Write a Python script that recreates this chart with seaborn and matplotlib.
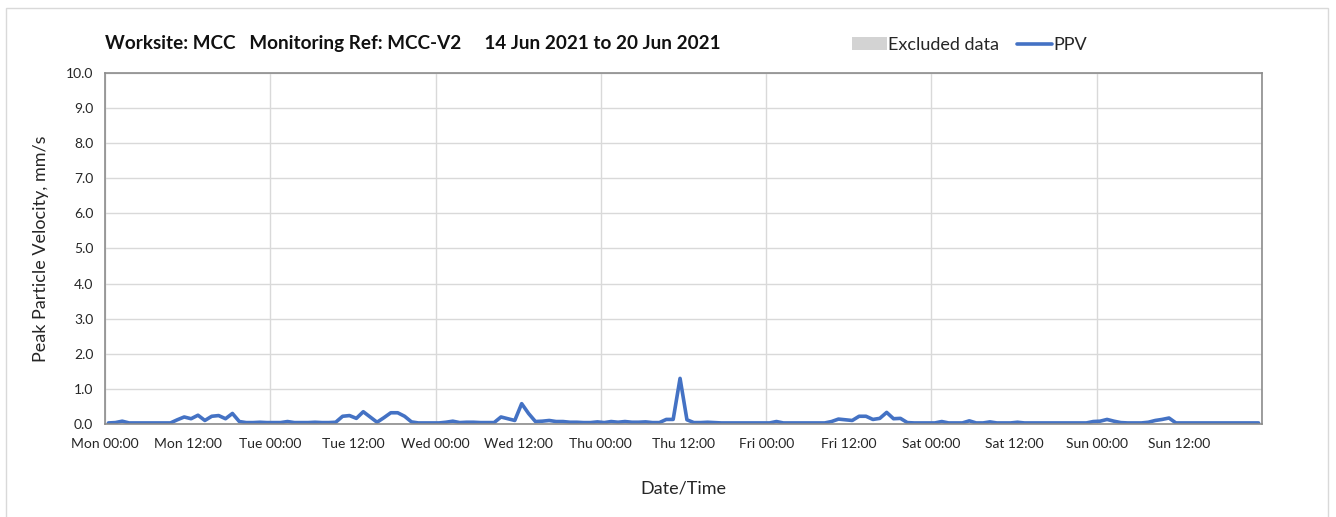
import pandas as pd
import seaborn as sns
import matplotlib
matplotlib.use("Agg")
import matplotlib.pyplot as plt
import matplotlib.dates as mdates
from matplotlib.patches import Patch, Rectangle
from matplotlib.lines import Line2D

# hourly PPV readings (mm/s), one list per day
mon = [0.03, 0.04, 0.08, 0.03, 0.03, 0.03, 0.03, 0.03, 0.03, 0.03, 0.12, 0.20,
       0.15, 0.25, 0.10, 0.22, 0.24, 0.15, 0.30, 0.07, 0.04, 0.04, 0.05, 0.04]
tue = [0.04, 0.04, 0.07, 0.04, 0.04, 0.04, 0.05, 0.04, 0.04, 0.05, 0.22, 0.24,
       0.16, 0.35, 0.20, 0.05, 0.18, 0.32, 0.32, 0.22, 0.06, 0.03, 0.03, 0.03]
wed = [0.03, 0.05, 0.08, 0.04, 0.05, 0.05, 0.04, 0.04, 0.04, 0.20, 0.15, 0.10,
       0.58, 0.30, 0.07, 0.08, 0.10, 0.07, 0.07, 0.05, 0.05, 0.04, 0.04, 0.06]
thu = [0.04, 0.07, 0.05, 0.07, 0.05, 0.05, 0.06, 0.04, 0.04, 0.13, 0.13, 1.30,
       0.12, 0.04, 0.04, 0.05, 0.04, 0.03, 0.03, 0.03, 0.03, 0.03, 0.03, 0.03]
fri = [0.03, 0.07, 0.03, 0.03, 0.03, 0.03, 0.03, 0.03, 0.03, 0.07, 0.14, 0.12,
       0.10, 0.22, 0.22, 0.13, 0.16, 0.33, 0.15, 0.16, 0.04, 0.03, 0.03, 0.03]
sat = [0.03, 0.07, 0.03, 0.03, 0.03, 0.09, 0.03, 0.03, 0.06, 0.03, 0.03, 0.03,
       0.05, 0.03, 0.03, 0.03, 0.03, 0.03, 0.03, 0.03, 0.03, 0.03, 0.03, 0.07]
sun = [0.08, 0.13, 0.08, 0.04, 0.03, 0.03, 0.03, 0.05, 0.10, 0.13, 0.17, 0.03,
       0.03, 0.03, 0.03, 0.03, 0.03, 0.03, 0.03, 0.03, 0.03, 0.03, 0.03, 0.03]

ppv = mon + tue + wed + thu + fri + sat + sun
start = pd.Timestamp("2021-06-14 00:00")
end = pd.Timestamp("2021-06-21 00:00")
times = pd.date_range("2021-06-14 00:30", periods=len(ppv), freq="h")
df = pd.DataFrame({"Date/Time": times, "PPV": ppv})

title = "Worksite: MCC   Monitoring Ref: MCC-V2     14 Jun 2021 to 20 Jun 2021"

sns.set_style("white")
plt.rcParams["font.family"] = ["Lato", "DejaVu Sans"]

fig = plt.figure(figsize=(13.36, 5.17), dpi=100)
fig.patches.append(Rectangle((6 / 1336, -0.01), 1322 / 1336, 1 - 8 / 517 + 0.01,
                             transform=fig.transFigure, fill=False,
                             edgecolor="#d9d9d9", linewidth=1))

ax = fig.add_axes([0.0786, 0.1799, 0.866, 0.679])
sns.lineplot(data=df, x="Date/Time", y="PPV", color="#4472C4", linewidth=2.6,
             ax=ax, legend=False)

ax.set_xlim(start, end)
ax.set_ylim(0, 10)
ax.set_yticks(range(0, 11))
ax.yaxis.set_major_formatter(matplotlib.ticker.FormatStrFormatter("%.1f"))

ax.xaxis.set_major_locator(mdates.HourLocator(byhour=[0]))
ax.xaxis.set_minor_locator(mdates.HourLocator(byhour=[12]))


def fmt(x, pos=None):
    d = mdates.num2date(x).replace(tzinfo=None)
    if d >= end:
        return ""
    return d.strftime("%a %H:%M")


ax.xaxis.set_major_formatter(matplotlib.ticker.FuncFormatter(fmt))
ax.xaxis.set_minor_formatter(matplotlib.ticker.FuncFormatter(fmt))

ax.grid(True, axis="y", color="#d9d9d9", linewidth=1)
ax.grid(True, axis="x", which="major", color="#d9d9d9", linewidth=1)
ax.set_axisbelow(True)

for s in ax.spines.values():
    s.set_color("#8c8c8c")
    s.set_linewidth(1.2)

ax.tick_params(axis="both", which="both", direction="out", length=5,
               color="#8c8c8c", labelsize=10, labelcolor="#262626")
ax.tick_params(axis="x", which="both", pad=5)

ax.set_xlabel("Date/Time", fontsize=13, color="#262626", labelpad=22)
ax.set_ylabel("Peak Particle Velocity, mm/s", fontsize=13, color="#262626",
              labelpad=12)

fig.text(105 / 1336, 1 - 43 / 517, title, fontsize=13.6, fontweight="bold",
         va="center", ha="left", color="#111111")

handles = [Patch(facecolor="#d3d3d3", edgecolor="none", label="Excluded data"),
           Line2D([], [], color="#4472C4", linewidth=2.6, label="PPV")]
fig.legend(handles=handles, loc="center left",
           bbox_to_anchor=(845 / 1336, 1 - 45 / 517), ncol=2, frameon=False,
           fontsize=13, handlelength=1.9, handletextpad=0.1,
           columnspacing=1.0, borderaxespad=0)

fig.savefig("out.png", dpi=100)
